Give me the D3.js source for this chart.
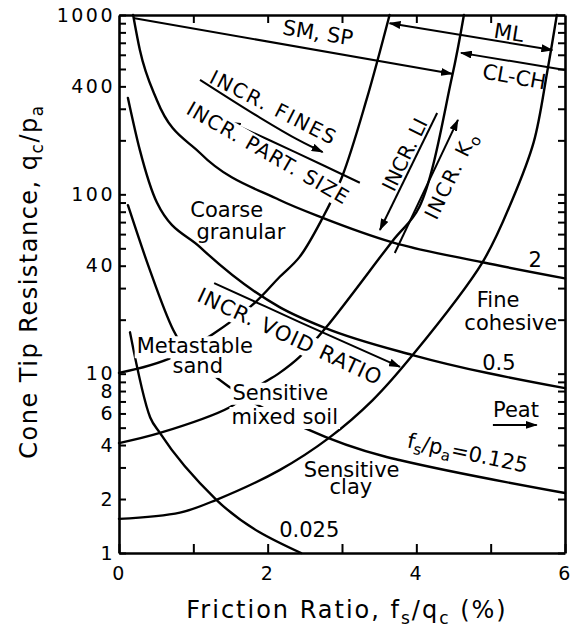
<!DOCTYPE html>
<html>
<head>
<meta charset="utf-8">
<script src="https://cdn.jsdelivr.net/npm/d3@7"></script>
<style>
  body { margin: 0; background: #fff; }
  svg text { font-family: "DejaVu Sans", sans-serif; fill: #000; }
</style>
</head>
<body>
<svg id="chart" width="573" height="630"></svg>
<script>
// ---- Axis ticks ----
const xTickValues = [0, 1, 2, 3, 4, 5, 6];
const xTickLabels = [0, 2, 4, 6];
const yTickLabels = [1, 2, 4, 6, 8, 10, 40, 100, 400, 1000];

// ---- Lines of constant sleeve friction, fs/pa (Rf in %, qc/pa) ----
const fs2Rf = [0.19, 0.28, 0.51, 1.09, 2.16, 2.74, 3.68, 4.89, 6.0];
const fs2Qc = [1000, 640, 335, 170, 93, 74, 54, 41.8, 34];
const fs05Rf = [0.12, 0.28, 0.51, 1.09, 2.16, 2.77, 3.95, 6.0];
const fs05Qc = [345, 177, 90, 50.8, 23.5, 18, 12.7, 8.3];
const fs0125Rf = [0.12, 0.4, 0.73, 1.26, 1.49, 2.5, 3.6, 3.77, 6.0];
const fs0125Qc = [87, 39.4, 17.5, 9.9, 8.4, 4.97, 3.43, 3.3, 2.16];
const fs0025Rf = [0.148, 0.42, 0.55, 1.31, 2.45];
const fs0025Qc = [17, 5.7, 4.67, 1.98, 1.0];

// ---- Soil-type boundaries ----
const bndLowRf = [0, 0.82, 1.31, 2.16, 2.83, 3.41, 3.95, 4.89, 5.29, 5.58, 5.76, 5.89];
const bndLowQc = [1.55, 1.68, 1.98, 2.9, 4.4, 7.1, 12.7, 41.8, 93, 196, 480, 1000];
const bndMidRf = [0, 0.55, 1.49, 1.85, 2.16, 2.43, 2.79, 3.68, 4.04, 4.48, 4.64];
const bndMidQc = [4.1, 4.67, 6.5, 8.4, 10.1, 12.4, 18.2, 55, 85, 452, 1000];
const bndHighRf = [0, 0.73, 1.76, 2.16, 2.43, 2.74, 3.0, 3.33, 3.64];
const bndHighQc = [10.1, 12.4, 23.5, 34.6, 44.8, 74, 125, 337, 1000];

// ---- Soil class arrows along the top ----
const smSpRf = [0.19, 4.48];
const smSpQc = [963, 470];
const mlRf = [3.64, 5.83];
const mlQc = [900, 638];
const clChRf = [4.6, 6.0];
const clChQc = [615, 494];

// ---- Trend arrows ----
const finesRf = [1.09, 1.9, 2.43, 2.74];
const finesQc = [435, 267, 199, 172];
const partRf = [3.24, 2.37, 1.49];
const partQc = [116, 172, 253];
const voidRf = [1.28, 2.43, 3.78];
const voidQc = [32, 19.4, 10.9];
const liRf = [4.28, 3.51];
const liQc = [284, 63.3];
const koRf = [3.71, 4.56];
const koQc = [47.1, 260];
const peatRf = [5.03, 5.62];
const peatQc = [5.18, 5.18];

// ---- Zone and curve labels (one entry per label, one value per text line) ----
const zoneLines = [["Coarse", "granular"], ["Metastable", "sand"], ["Sensitive", "mixed soil"],
  ["Sensitive", "clay"], ["Fine", "cohesive"], ["0.5"], ["2"], ["0.025"], ["Peat"]];
const zoneRf = [[1.45, 1.64], [1.02, 1.06], [2.17, 2.23], [3.13, 3.12], [5.1, 5.27], [5.11], [5.6], [2.56], [5.34]];
const zoneQc = [[74.8, 56.4], [13.0, 10.1], [7.15, 5.24], [2.65, 2.13], [23.5, 17.5], [10.5], [39.4], [1.23], [5.74]];
const zoneBoxed = [false, true, true, false, false, false, false, false, false];

const svg = d3.select("#chart");
const x = d3.scaleLinear().domain([0, 6]).range([119, 565]);
const y = d3.scaleLog().domain([1, 1000]).range([553, 15]);

const zip = (a, b) => a.map((v, i) => [v, b[i]]);
const smooth = d3.line().x(d => x(d[0])).y(d => y(d[1])).curve(d3.curveMonotoneX);
const smoothY = d3.line().x(d => x(d[0])).y(d => y(d[1])).curve(d3.curveCatmullRom.alpha(0.5));
const straight = d3.line().x(d => x(d[0])).y(d => y(d[1]));

// arrowhead marker
const defs = svg.append("defs");
defs.append("marker").attr("id", "head").attr("viewBox", "0 0 12 8")
  .attr("refX", 11).attr("refY", 4).attr("markerWidth", 12).attr("markerHeight", 8)
  .attr("markerUnits", "userSpaceOnUse").attr("orient", "auto-start-reverse")
  .append("path").attr("d", "M0,0 L12,4 L0,8 Z").attr("fill", "#000");

// ---- Axes ----
const yAllTicks = [];
[1, 10, 100].forEach(dec => d3.range(1, 10).forEach(k => yAllTicks.push(k * dec)));
yAllTicks.push(1000);

function styleAxis(g) {
  g.select(".domain").attr("stroke", "#000").attr("stroke-width", 2.6);
  g.selectAll(".tick line").attr("stroke", "#000").attr("stroke-width", 2);
  g.selectAll(".tick text").attr("font-family", "DejaVu Sans, sans-serif")
    .attr("font-size", 19).attr("letter-spacing", "2.5px").attr("fill", "#000");
}

svg.append("g").attr("transform", `translate(${x(0)},0)`)
  .call(d3.axisLeft(y).tickValues(yAllTicks).tickSizeInner(-7).tickSizeOuter(0).tickPadding(4)
    .tickFormat(d => yTickLabels.includes(d) ? String(d) : ""))
  .call(styleAxis);

svg.append("g").attr("transform", `translate(${x(6)},0)`)
  .call(d3.axisRight(y).tickValues(yAllTicks).tickSizeInner(-7).tickSizeOuter(0).tickFormat(""))
  .call(styleAxis);

svg.append("g").attr("transform", `translate(0,${y(1)})`)
  .call(d3.axisBottom(x).tickValues(xTickValues).tickSizeInner(-9).tickSizeOuter(0).tickPadding(14)
    .tickFormat(d => xTickLabels.includes(d) ? String(d) : ""))
  .call(styleAxis);

svg.append("g").attr("transform", `translate(0,${y(1000)})`)
  .call(d3.axisTop(x).tickValues(xTickValues.slice(1, 6)).tickSizeInner(-8).tickSizeOuter(0).tickFormat(""))
  .call(styleAxis);

// ---- Curves ----
const curveG = svg.append("g").attr("fill", "none").attr("stroke", "#000")
  .attr("stroke-width", 2.4).attr("stroke-linecap", "round");
[[fs2Rf, fs2Qc], [fs05Rf, fs05Qc], [fs0125Rf, fs0125Qc], [fs0025Rf, fs0025Qc]]
  .forEach(([r, q]) => curveG.append("path").attr("d", smooth(zip(r, q))));
[[bndLowRf, bndLowQc], [bndMidRf, bndMidQc], [bndHighRf, bndHighQc]]
  .forEach(([r, q]) => curveG.append("path").attr("d", smoothY(zip(r, q))));

// ---- Arrows ----
const arrowG = svg.append("g").attr("fill", "none").attr("stroke", "#000").attr("stroke-width", 2);
arrowG.append("path").attr("d", straight(zip(smSpRf, smSpQc))).attr("marker-end", "url(#head)");
arrowG.append("path").attr("d", straight(zip(mlRf, mlQc))).attr("marker-start", "url(#head)").attr("marker-end", "url(#head)");
arrowG.append("path").attr("d", straight(zip(clChRf, clChQc))).attr("marker-start", "url(#head)");
arrowG.append("path").attr("d", smoothY(zip(finesRf, finesQc))).attr("marker-end", "url(#head)");
arrowG.append("path").attr("d", smoothY(zip(partRf, partQc))).attr("marker-end", "url(#head)");
arrowG.append("path").attr("d", smoothY(zip(voidRf, voidQc))).attr("marker-end", "url(#head)");
arrowG.append("path").attr("d", straight(zip(liRf, liQc))).attr("marker-end", "url(#head)");
arrowG.append("path").attr("d", straight(zip(koRf, koQc))).attr("marker-end", "url(#head)");
arrowG.append("path").attr("d", straight(zip(peatRf, peatQc))).attr("marker-end", "url(#head)");

// ---- Multi-line zone labels, optionally knocked out of the lines behind them ----
const labelG = svg.append("g");
zoneLines.forEach((lines, i) => {
  if (zoneBoxed[i]) {
    lines.forEach((s, j) => {
      const tmp = labelG.append("text").attr("text-anchor", "middle").attr("font-size", 21)
        .attr("x", x(zoneRf[i][j])).attr("y", y(zoneQc[i][j])).text(s);
      const b = tmp.node().getBBox();
      tmp.remove();
      labelG.append("rect").attr("fill", "#fff")
        .attr("x", b.x - 2).attr("y", b.y + 2).attr("width", b.width + 4).attr("height", b.height - 2);
    });
  }
  const t = labelG.append("text").attr("text-anchor", "middle").attr("font-size", 21);
  lines.forEach((s, j) => t.append("tspan").attr("x", x(zoneRf[i][j])).attr("y", y(zoneQc[i][j])).text(s));
});

// ---- Rotated single-line labels ----
function addLabel(build, rf, qc, rot, boxed, size, spacing) {
  const g = svg.append("g").attr("transform", `translate(${x(rf)},${y(qc)}) rotate(${rot})`);
  const rect = g.append("rect").attr("fill", "#fff");
  const t = g.append("text").attr("text-anchor", "middle").attr("font-size", size || 21)
    .attr("letter-spacing", (spacing || 0) + "px");
  build(t);
  if (boxed) {
    const b = t.node().getBBox();
    rect.attr("x", b.x - 2).attr("y", b.y + 2).attr("width", b.width + 4).attr("height", b.height - 2);
  } else rect.remove();
  return t;
}

addLabel(t => {
  t.append("tspan").text("f");
  t.append("tspan").text("s").attr("font-size", 15).attr("dy", 5);
  t.append("tspan").text("/p").attr("dy", -5);
  t.append("tspan").text("a").attr("font-size", 15).attr("dy", 5);
  t.append("tspan").text("=0.125").attr("dy", -5);
}, 4.67, 3.3, 12, false);

addLabel(t => t.text("SM, SP"), 2.66, 727, 9, false);
addLabel(t => t.text("ML"), 5.23, 727, 9, false);
addLabel(t => t.text("CL-CH"), 5.3, 413, 10, false);
addLabel(t => t.text("INCR. FINES"), 2.04, 281, 27, false, 20, 2);
addLabel(t => t.text("INCR. PART. SIZE"), 1.96, 157, 30, true, 20, 1.2);
addLabel(t => t.text("INCR. VOID RATIO"), 2.26, 14.8, 25, true, 21, 1);
addLabel(t => t.text("INCR. LI"), 3.93, 160, -64, false, 20);
addLabel(t => {
  t.append("tspan").text("INCR. K");
  t.append("tspan").text("o").attr("font-size", 15).attr("dy", 5);
}, 4.55, 123, -64, false, 20, 1.5);

// ---- Axis titles ----
const xt = svg.append("text").attr("x", (x(0) + x(6)) / 2 + 5).attr("y", 618)
  .attr("text-anchor", "middle").attr("font-size", 24).attr("letter-spacing", "2px");
xt.append("tspan").text("Friction Ratio, f");
xt.append("tspan").text("s").attr("font-size", 17).attr("dy", 6);
xt.append("tspan").text("/q").attr("dy", -6);
xt.append("tspan").text("c").attr("font-size", 17).attr("dy", 6);
xt.append("tspan").text(" (%)").attr("dy", -6);

const yt = svg.append("text").attr("transform", `translate(37,${(463 + 100) / 2}) rotate(-90)`)
  .attr("text-anchor", "middle").attr("font-size", 24).attr("letter-spacing", "1.5px");
yt.append("tspan").text("Cone Tip Resistance, q");
yt.append("tspan").text("c").attr("font-size", 17).attr("dy", 6);
yt.append("tspan").text("/p").attr("dy", -6);
yt.append("tspan").text("a").attr("font-size", 17).attr("dy", 6);
</script>
</body>
</html>
